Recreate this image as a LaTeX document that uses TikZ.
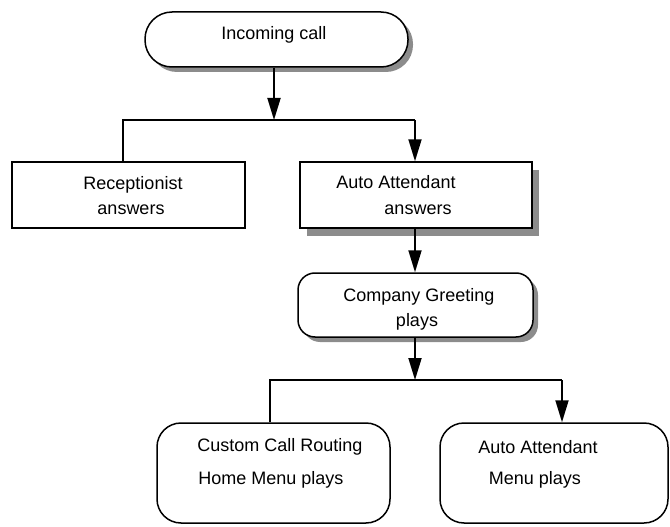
\documentclass[tikz,border=0pt]{standalone}
\usepackage{fontspec}
\setmainfont{Liberation Sans}
\usetikzlibrary{arrows.meta,shadows}
\tikzset{
  box/.style={draw=black, line width=1.5pt, fill=white, inner sep=0pt},
  shad/.style={drop shadow={shadow xshift=5pt, shadow yshift=-5pt, fill=black!45, opacity=1}},
  txt/.style={font=\fontsize{18}{21}\selectfont, inner sep=0pt, text height=12.5pt, text depth=0pt},
  conn/.style={line width=1.8pt},
  arr/.style={line width=1.8pt, -{Triangle[length=22pt,width=13pt]}},
}
\begin{document}
\begin{tikzpicture}[x=1pt,y=-1pt]
\useasboundingbox (0,0) rectangle (670,527);
% boxes
\node[box, shad, rounded corners=27pt, minimum width=263pt, minimum height=55pt] (inc) at (276.5,39.5) {};
\node[box, minimum width=233pt, minimum height=66pt] (rec) at (128.5,195) {};
\node[box, drop shadow={shadow xshift=7pt, shadow yshift=-8pt, fill=black!45, opacity=1}, minimum width=232pt, minimum height=66pt] (aa) at (416,195) {};
\node[box, shad, rounded corners=17pt, minimum width=235pt, minimum height=64pt] (cg) at (415.5,305) {};
\node[box, rounded corners=24pt, minimum width=233pt, minimum height=100pt] (ccr) at (273.5,473) {};
\node[box, rounded corners=24pt, minimum width=228pt, minimum height=100pt] (aam) at (554,473) {};
% texts
\node[txt] (tinc) at (274,33) {Incoming call};
\node[txt] (trec1) at (133,183) {Receptionist};
\node[txt] (trec2) at (131,208) {answers};
\node[txt] (taa1) at (396,182) {Auto Attendant};
\node[txt] (taa2) at (418,208) {answers};
\node[txt] (tcg1) at (419,295) {Company Greeting};
\node[txt] (tcg2) at (417,320) {plays};
\node[txt] (tccr1) at (280,445) {Custom Call Routing};
\node[txt] (tccr2) at (271,478) {Home Menu plays};
\node[txt] (taam1) at (538,447) {Auto Attendant};
\node[txt] (taam2) at (535,478) {Menu plays};
% connectors
\coordinate (j1) at (274,120);
\coordinate (hl) at (123,120);
\coordinate (hr) at (415,120);
\coordinate (j2) at (415,380);
\coordinate (bl) at (270,380);
\coordinate (br) at (562,380);
\draw[arr] (inc.south -| j1) -- (j1);
\draw[conn] (rec.north -| hl) -- (hl) -- (hr);
\draw[arr] (hr) -- (aa.north -| hr);
\draw[arr] (aa.south -| hr) -- (cg.north -| hr);
\draw[arr] (cg.south -| j2) -- (j2);
\draw[conn] (ccr.north -| bl) -- (bl) -- (br);
\draw[arr] (br) -- (aam.north -| br);
\end{tikzpicture}
\end{document}
